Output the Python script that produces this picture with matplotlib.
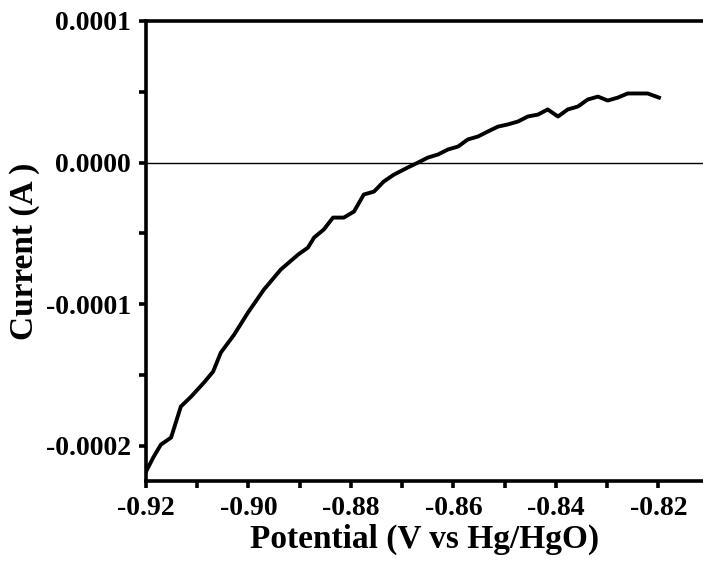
import numpy as np
import matplotlib
matplotlib.use("Agg")
import matplotlib.pyplot as plt
from matplotlib.ticker import MultipleLocator, FormatStrFormatter

# data
potential = [-0.9200, -0.9186, -0.9171, -0.9151, -0.9132, -0.9112, -0.9087, -0.9069,
             -0.9054, -0.9028, -0.9001, -0.8970, -0.8937, -0.8903, -0.8884, -0.8872,
             -0.8853, -0.8835, -0.8814, -0.8794, -0.8775, -0.8755, -0.8736, -0.8716,
             -0.8689, -0.8669, -0.8650, -0.8630, -0.8611, -0.8591, -0.8572, -0.8552,
             -0.8533, -0.8513, -0.8494, -0.8474, -0.8455, -0.8435, -0.8416, -0.8396,
             -0.8377, -0.8357, -0.8338, -0.8318, -0.8299, -0.8279, -0.8260, -0.8221,
             -0.8199]
current = [-2.184, -2.085, -1.993, -1.943, -1.724, -1.654, -1.555, -1.477,
           -1.343, -1.216, -1.060, -0.898, -0.756, -0.650, -0.601, -0.530,
           -0.473, -0.389, -0.389, -0.346, -0.226, -0.205, -0.134, -0.085,
           -0.035, 0.000, 0.035, 0.057, 0.092, 0.113, 0.163, 0.184,
           0.219, 0.254, 0.269, 0.290, 0.325, 0.339, 0.375, 0.325,
           0.375, 0.396, 0.445, 0.466, 0.438, 0.459, 0.488, 0.488,
           0.459]
current = np.array(current) * 1e-4

plt.rcParams['font.family'] = ['Liberation Serif', 'DejaVu Serif']
plt.rcParams['font.weight'] = 'bold'
plt.rcParams['axes.unicode_minus'] = False

fig = plt.figure(figsize=(7.03, 5.64), dpi=100)
ax = fig.add_axes([146 / 703, 83 / 564, 557 / 703, 460 / 564])

ax.axhline(0, color='black', lw=1.0, zorder=1)
ax.plot(potential, current, color='black', lw=2.8, zorder=2)

ax.set_xlim(-0.92, -0.8113)
ax.set_ylim(-0.000225, 0.0001)

ax.xaxis.set_major_locator(MultipleLocator(0.02))
ax.xaxis.set_minor_locator(MultipleLocator(0.01))
ax.yaxis.set_major_locator(MultipleLocator(0.0001))
ax.yaxis.set_minor_locator(MultipleLocator(0.00005))
ax.xaxis.set_major_formatter(FormatStrFormatter('%.2f'))
ax.yaxis.set_major_formatter(FormatStrFormatter('%.4f'))

ax.spines['right'].set_visible(False)
for s in ['left', 'bottom', 'top']:
    ax.spines[s].set_linewidth(2.6)

ax.tick_params(which='both', direction='out', width=2.6, length=5,
               labelsize=20, pad=6)
ax.tick_params(axis='x', pad=6)
for lab in ax.get_xticklabels() + ax.get_yticklabels():
    lab.set_fontweight('bold')

ax.set_xlabel('Potential (V vs Hg/HgO)', fontsize=24, fontweight='bold', labelpad=2)
ax.set_ylabel('Current (A )', fontsize=24, fontweight='bold', labelpad=4)

fig.savefig('out.png', dpi=100)
